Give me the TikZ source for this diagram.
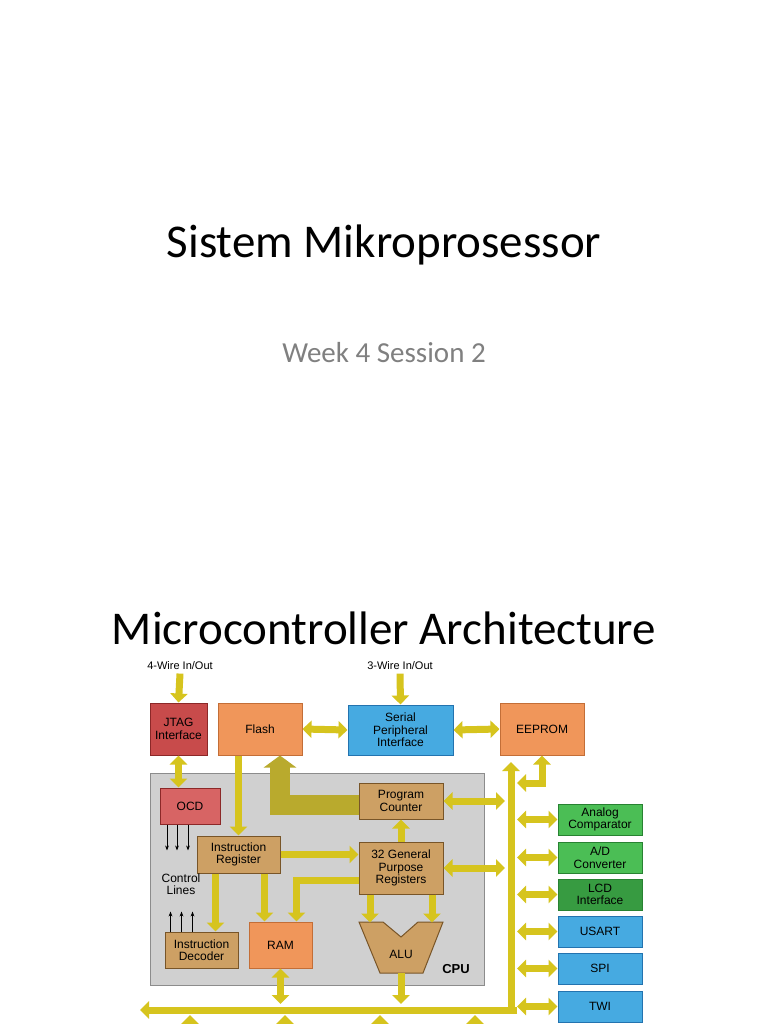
\documentclass[tikz,border=0pt]{standalone}
\usepackage{fontspec}
\setmainfont{Liberation Sans}
\newfontfamily\slidefont{Carlito}
\usetikzlibrary{shapes.geometric,arrows.meta}
\definecolor{busy}{RGB}{214,196,30}
\definecolor{bandy}{RGB}{185,170,45}
\definecolor{redf}{RGB}{200,75,75}
\definecolor{redd}{RGB}{140,40,40}
\definecolor{ocdf}{RGB}{215,100,100}
\definecolor{orgf}{RGB}{240,150,90}
\definecolor{orgd}{RGB}{195,110,55}
\definecolor{bluf}{RGB}{70,170,225}
\definecolor{blud}{RGB}{35,115,175}
\definecolor{tanf}{RGB}{205,160,100}
\definecolor{tand}{RGB}{120,85,40}
\definecolor{grnf}{RGB}{75,190,85}
\definecolor{grnd}{RGB}{40,130,50}
\definecolor{lcdf}{RGB}{55,155,65}
\definecolor{cpuf}{RGB}{208,208,208}
\definecolor{cpud}{RGB}{140,140,140}
\tikzset{
  blk/.style={rectangle,inner sep=0pt,align=center,font=\fontsize{12}{12.5}\selectfont,line width=1pt},
  redbox/.style={blk,fill=redf,draw=redd},
  orgbox/.style={blk,fill=orgf,draw=orgd},
  tanbox/.style={blk,fill=tanf,draw=tand},
  grnbox/.style={blk,fill=grnf,draw=grnd,minimum width=84pt,minimum height=31pt},
  blubox/.style={blk,fill=bluf,draw=blud,minimum width=84pt,minimum height=31pt},
  sbus/.style={line width=7pt,draw=busy,-{Triangle[width=17pt,length=9pt]}},
  dbus/.style={line width=7pt,draw=busy,{Triangle[width=17pt,length=9pt]}-{Triangle[width=17pt,length=9pt]}},
  band/.style={line width=20pt,draw=bandy,-{Triangle[width=32pt,length=12pt]}},
  thin/.style={line width=0.8pt,-{Stealth[length=5pt]}}
}
\begin{document}
\begin{tikzpicture}[x=1pt,y=-1pt]
		\useasboundingbox[fill=white] (0,0) rectangle (768,1024);
		% slide text
		\node[font=\slidefont\fontsize{47}{47}\selectfont] (title) at (384,245) {Sistem Mikroprosessor};
		\node[font=\slidefont\fontsize{29}{29}\selectfont,text=gray] (sub) at (384,353) {Week 4 Session 2};
		\node[font=\slidefont\fontsize{47}{47}\selectfont] (head) at (384,628) {Microcontroller Architecture};
		% cpu area
		\node[blk,fill=cpuf,draw=cpud,minimum width=334pt,minimum height=212pt] (cpu) at (317,879) {};
		\node[font=\bfseries\fontsize{13}{13}\selectfont] (cpulbl) at (456,969) {CPU};
		% blocks
		\node[font=\fontsize{11}{11}\selectfont] (w4) at (180,666) {4-Wire In/Out};
		\node[font=\fontsize{11}{11}\selectfont] (w3) at (400,666) {3-Wire In/Out};
		\node[redbox,minimum width=57pt,minimum height=52pt] (jtag) at (178.5,729) {JTAG\\Interface};
		\node[orgbox,minimum width=84pt,minimum height=52pt] (flash) at (260,729) {Flash};
		\node[ellipse,blk,fill=bluf,draw=blud,minimum width=105pt,minimum height=50pt] (spi) at (400.5,730) {Serial\\Peripheral\\Interface};
		\node[orgbox,minimum width=84pt,minimum height=52pt] (eeprom) at (542,729) {EEPROM};
		\node[redbox,fill=ocdf,minimum width=60pt,minimum height=36pt] (ocd) at (190,806) {OCD};
		\node[tanbox,minimum width=84pt,minimum height=36pt] (pc) at (401,801) {Program\\Counter};
		\node[tanbox,minimum width=83pt,minimum height=37pt] (ir) at (238.5,854.5) {Instruction\\Register};
		\node[tanbox,minimum width=84pt,minimum height=52pt] (gpr) at (401,868) {32 General\\Purpose\\Registers};
		\node[tanbox,minimum width=73pt,minimum height=36pt] (dec) at (201.5,950) {Instruction\\Decoder};
		\node[orgbox,minimum width=63pt,minimum height=46pt] (ram) at (280.5,945) {RAM};
		\node[blk,text width=60pt] (ctl) at (181,884) {Control\\Lines};
		% ALU
		\draw[fill=tanf,draw=tand,line width=1pt] (359,922) -- (383,922) -- (401,937) -- (418,922) -- (443,922) -- (423,973) -- (380,973) -- cycle;
		\node[blk] (alu) at (401,954) {ALU};
		\coordinate (alub) at (401,973);
		% peripherals
		\node[grnbox] (acmp) at (600,819.5) {Analog\\Comparator};
		\node[grnbox] (adc) at (600,857.5) {A/D\\Converter};
		\node[grnbox,fill=lcdf] (lcd) at (600,894.5) {LCD\\Interface};
		\node[blubox] (usart) at (600,931.5) {USART};
		\node[blubox] (spip) at (600,968.5) {SPI};
		\node[blubox] (twi) at (600,1006.5) {TWI};
		% bus coordinates
		\coordinate (bcorner) at (511,1010);
		\coordinate (btop) at (511,762);
		\coordinate (bleft) at (140,1010);
		\coordinate (bbl) at (505,900);
		\coordinate (bbr) at (517,900);
		\coordinate (bt) at (0,1004);
		\coordinate (ee) at (517,783);
		% connectors
		\draw[sbus] (w4.south) -- (jtag.north);
		\draw[sbus] (w3.south) -- (spi.north);
		\draw[dbus] (flash.east) -- (spi.west);
		\draw[dbus] (spi.east) -- (eeprom.west);
		\draw[dbus] (jtag.south) -- (jtag.south |- ocd.north);
		\draw[band] ([yshift=-4pt]pc.west) -| ([xshift=20pt]flash.south);
		\draw[sbus] (ir.north |- flash.south) -- (ir.north);
		\draw[sbus] (ir.east) -- (ir.east -| gpr.west);
		\draw[sbus] (gpr.north) -- (pc.south);
		\draw[sbus] ([xshift=-23pt]ir.south) -- ([xshift=-23pt]ir.south |- dec.north);
		\draw[sbus] ([xshift=26pt]ir.south) -- ([xshift=26pt]ir.south |- ram.north);
		\draw[sbus] ([yshift=-12pt]gpr.west) -| ([xshift=16pt]ram.north);
		\draw[sbus] ([xshift=-31pt]gpr.south) -- ++(0,28);
		\draw[sbus] ([xshift=31pt]gpr.south) -- ++(0,28);
		\draw[sbus] (alub) -- (alub |- bt);
		\draw[dbus] (ram.south) -- (ram.south |- bt);
		\draw[dbus] (pc.east) -- (pc.east -| bbl);
		\draw[dbus] (gpr.east) -- (gpr.east -| bbl);
		\foreach \p in {acmp,adc,lcd,usart,spip,twi}
			\draw[dbus] (\p.west -| bbr) -- (\p.west);
		\draw[dbus] (ee) -| (eeprom.south);
		\draw[sbus] (bcorner) -- (btop);
		\draw[sbus] ([xshift=6pt]bcorner) -- (bleft);
		\foreach \x in {190,285,380,475}
			\draw[sbus] (\x,1036) -- (\x,1015);
		% control lines
		\foreach \dx in {-23,-13,-2}
			\draw[thin] ([xshift=\dx pt]ocd.south) -- ++(0,26);
		\foreach \dx in {-31,-20,-9}
			\draw[thin] ([xshift=\dx pt]dec.north) -- ++(0,-20);
\end{tikzpicture}
\end{document}
